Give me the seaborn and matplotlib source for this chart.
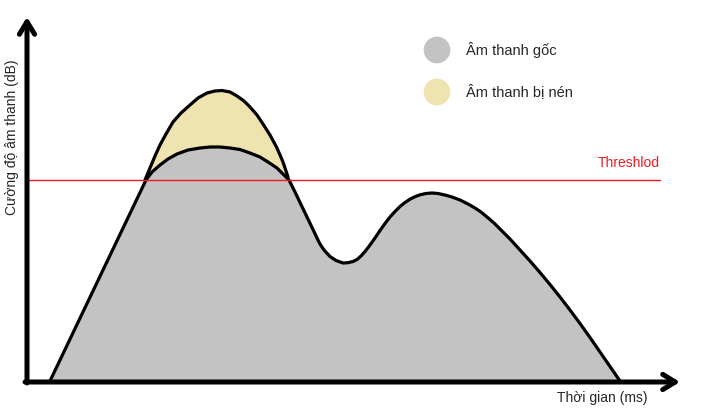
import matplotlib
matplotlib.use("Agg")
import matplotlib.pyplot as plt
import seaborn as sns

# Âm thanh gốc (đường xám) - thời gian / cường độ
thoi_gian_goc = [23, 119, 125, 133, 141, 150, 161, 173, 183, 193,
                 203, 213, 223, 233, 241, 250, 256, 262,
                 268, 274, 280, 286, 290, 293, 297, 303, 309, 316,
                 321, 326, 330, 334, 338, 343, 348, 353, 358, 363,
                 368, 373, 378, 383, 388, 393, 399, 405, 411, 418,
                 425, 433, 441, 448, 454, 460, 467, 473, 483, 493,
                 503, 513, 523, 533, 543, 553, 563, 573, 583, 593]
cuong_do_goc = [0, 201, 209, 216, 222, 227, 231, 233, 234, 234,
                233, 231.5, 228, 224, 219, 213, 207, 201,
                189, 176.5, 164, 151.5, 143, 137, 131, 124.5, 120.5, 118,
                118.3, 119.5, 121.5, 125, 129.5, 136, 143, 150.5, 157.5, 164,
                169.5, 174.5, 178.5, 181.8, 184.3, 186.2, 187.5, 188, 187.5, 186,
                184, 181, 177, 173, 169, 164, 158, 152, 142, 131,
                120, 108.5, 96.5, 84, 71, 57.5, 43.5, 29, 14.5, 0]

# Phần đỉnh (đường vàng) trên ngưỡng
thoi_gian_dinh = [118, 123, 128, 133, 139, 146, 154, 163, 171, 180,
                  188, 195, 203, 210, 217, 223, 230, 236, 243, 250,
                  256, 261]
cuong_do_dinh = [201, 213, 225, 236, 247, 259, 268, 276, 283, 288,
                 290, 290.5, 289, 285, 280, 274, 266, 257, 246, 233,
                 219, 204]

nguong = 201
nhan = ["Âm thanh gốc", "Âm thanh bị nén"]
mau = ["#c3c3c3", "#efe4b0"]

sns.set_style("white")
plt.rcParams["font.family"] = ["Liberation Sans", "DejaVu Sans"]

fig = plt.figure(figsize=(7.1, 4.19), dpi=100)
ax = fig.add_axes([0, 0, 1, 1])
ax.set_xlim(-27, 683)
ax.set_ylim(-38, 381)
ax.axis("off")

# vùng tô
ax.fill_between(thoi_gian_dinh, cuong_do_dinh, 0, color=mau[1], lw=0, zorder=1)
ax.fill_between(thoi_gian_goc, cuong_do_goc, 0, color=mau[0], lw=0, zorder=2)

# viền
sns.lineplot(x=thoi_gian_dinh, y=cuong_do_dinh, color="black", lw=2.3, ax=ax, zorder=3)
sns.lineplot(x=thoi_gian_goc, y=cuong_do_goc, color="black", lw=2.3, ax=ax, zorder=3)

# ngưỡng
ax.plot([0, 633], [nguong, nguong], color="#ed1c24", lw=1, zorder=4)
ax.text(633, nguong + 17, "Threshlod", color="#ed1c24", fontsize=10,
        ha="right", va="center")

# trục có mũi tên
mui_ten = dict(arrowstyle="->,head_length=0.9,head_width=0.55", lw=3.6,
               color="black", shrinkA=0, shrinkB=0)
ax.annotate("", xy=(0, 364), xytext=(0, -2), arrowprops=mui_ten, zorder=5)
ax.annotate("", xy=(653, -1), xytext=(-2, -1), arrowprops=mui_ten, zorder=5)

ax.text(-15, 244, "Cường độ âm thanh (dB)", rotation=90, fontsize=10,
        ha="center", va="center")
ax.text(575, -17, "Thời gian (ms)", fontsize=10, ha="center", va="center")

# chú thích
sns.scatterplot(x=[410, 410], y=[331, 289], hue=nhan, palette=mau, s=370,
                edgecolor="none", legend=False, ax=ax, zorder=5)
for yy, t in zip([331, 289], nhan):
    ax.text(439, yy, t, fontsize=10.5, ha="left", va="center")

fig.savefig("out.png", dpi=100)
